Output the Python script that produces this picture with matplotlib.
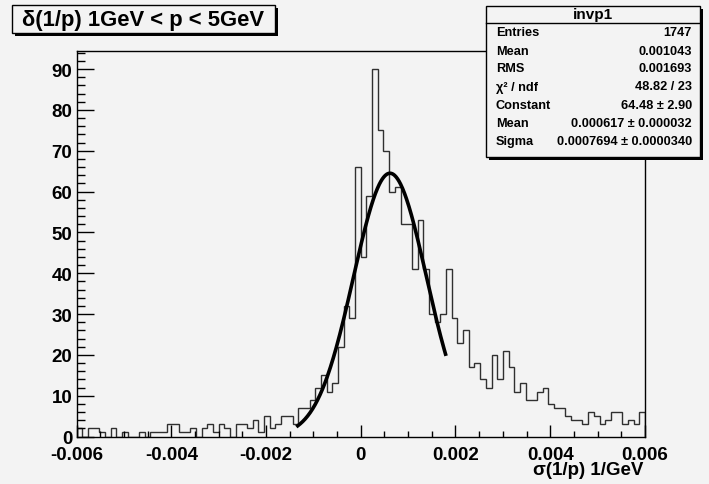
import numpy as np
import matplotlib
matplotlib.use('Agg')
import matplotlib.pyplot as plt
from matplotlib.patches import Rectangle
from matplotlib.ticker import MultipleLocator, FuncFormatter

plt.rcParams['font.family'] = ['Liberation Sans', 'DejaVu Sans']
plt.rcParams['font.weight'] = 'bold'
plt.rcParams['axes.unicode_minus'] = False

# histogram invp1: 100 bins from -0.006 to 0.006
xmin, xmax, nbins = -0.006, 0.006, 100
counts = [2, 0, 2, 2, 1, 0, 2, 0, 1, 0,
          0, 1, 0, 1, 1, 1, 3, 3, 1, 1,
          2, 0, 2, 3, 1, 3, 2, 0, 3, 3,
          2, 4, 1, 5, 2, 3, 5, 5, 3, 7,
          7, 9, 12, 15, 11, 13, 22, 32, 29, 66,
          44, 59, 90, 75, 70, 60, 61, 52, 52, 41,
          53, 41, 30, 28, 30, 41, 29, 23, 26, 17,
          18, 14, 12, 20, 14, 21, 17, 11, 13, 9,
          9, 11, 12, 8, 7, 7, 5, 4, 4, 3,
          6, 5, 3, 4, 6, 6, 3, 4, 3, 6]

# gaussian fit result
fit_const, fit_mean, fit_sigma = 64.48, 0.000617, 0.0007694
fit_lo, fit_hi = -0.00133, 0.00179

stat_labels = ['Entries', 'Mean', 'RMS', 'χ² / ndf', 'Constant', 'Mean', 'Sigma']
stat_values = ['1747', '0.001043', '0.001693', '48.82 / 23',
               '64.48 ± 2.90', '0.000617 ± 0.000032', '0.0007694 ± 0.0000340']

W, H = 709, 485
bg = '#f3f3f3'
fig = plt.figure(figsize=(W / 100, H / 100), dpi=100, facecolor=bg)

def fx(x):
    return x / W

def fy(y):
    return 1 - y / H

ax = fig.add_axes([fx(76.5), fy(437.5), (645 - 76.5) / W, (437.5 - 51.7) / H])
ax.set_facecolor(bg)

edges = np.linspace(xmin, xmax, nbins + 1)
ax.stairs(counts, edges, color='#303030', lw=1.0)

xf = np.linspace(fit_lo, fit_hi, 300)
ax.plot(xf, fit_const * np.exp(-0.5 * ((xf - fit_mean) / fit_sigma) ** 2),
        color='black', lw=2.6)

ax.set_xlim(xmin, xmax)
ax.set_ylim(0, 1.05 * max(counts))

ax.xaxis.set_major_locator(MultipleLocator(0.002))
ax.xaxis.set_minor_locator(MultipleLocator(0.0005))
ax.yaxis.set_major_locator(MultipleLocator(10))
ax.yaxis.set_minor_locator(MultipleLocator(2))
ax.xaxis.set_major_formatter(FuncFormatter(lambda v, p: '0' if abs(v) < 1e-9 else '%.3f' % v))
ax.yaxis.set_major_formatter(FuncFormatter(lambda v, p: '%d' % v))
ax.tick_params(axis='both', which='both', direction='in', labelsize=13.5, width=1)
ax.tick_params(axis='y', which='major', length=12, pad=3)
ax.tick_params(axis='y', which='minor', length=6)
ax.tick_params(axis='x', which='major', length=8.6, pad=6.5)
ax.tick_params(axis='x', which='minor', length=4.3)
for s in ax.spines.values():
    s.set_linewidth(1)

fig.text(fx(643), fy(471), 'σ(1/p) 1/GeV', ha='right', va='center', fontsize=13.5)


def pave(x0, y0, x1, y1, sh=3):
    fig.add_artist(Rectangle((fx(x0 + sh), fy(y1 + sh)), (x1 - x0) / W, (y1 - y0) / H,
                             transform=fig.transFigure, facecolor='black',
                             edgecolor='none', zorder=5))
    fig.add_artist(Rectangle((fx(x0), fy(y1)), (x1 - x0) / W, (y1 - y0) / H,
                             transform=fig.transFigure, facecolor=bg,
                             edgecolor='black', lw=1, zorder=6))


# title box
pave(12, 6, 275, 34)
fig.text(fx(22), fy(20.5), 'δ(1/p) 1GeV < p < 5GeV', ha='left', va='center',
         fontsize=15.8, zorder=7)

# stats box
pave(486, 7, 700, 158)
fig.add_artist(plt.Line2D([fx(486), fx(700)], [fy(24), fy(24)],
                          transform=fig.transFigure, color='black', lw=1, zorder=7))
fig.text(fx(593), fy(15.5), 'invp1', ha='center', va='center', fontsize=11, zorder=7)
row_y = [32.7, 51.7, 69.5, 87.5, 106, 124, 142.3]
for yy, lab, val in zip(row_y, stat_labels, stat_values):
    fig.text(fx(496), fy(yy), lab, ha='left', va='center', fontsize=9.2, zorder=7)
    fig.text(fx(692), fy(yy), val, ha='right', va='center', fontsize=9.2, zorder=7)

fig.savefig('out.png', dpi=100, facecolor=bg)
